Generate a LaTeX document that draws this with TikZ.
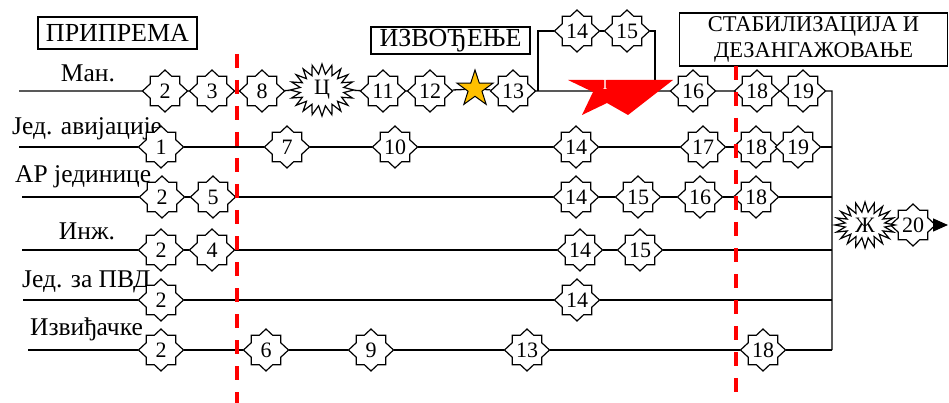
\documentclass[tikz,border=0pt]{standalone}
\usepackage{fontspec}
\setmainfont{Liberation Serif}
\usetikzlibrary{shapes.geometric,shapes.symbols,arrows.meta}
\definecolor{gold}{RGB}{255,192,0}
\pgfdeclarelayer{lines}
\pgfdeclarelayer{shapes}
\pgfsetlayers{lines,shapes,main}
\newcommand{\evshape}[1]{\filldraw[oct, shift={(#1.center)}] (22.5,0) -- (14.8,7.2) -- (14.8,14.8) -- (6.6,14.8) -- (0,21) -- (-6.6,14.8) -- (-14.8,14.8) -- (-14.8,7.2) -- (-22.5,0) -- (-14.8,-7.2) -- (-14.8,-14.8) -- (-6.6,-14.8) -- (0,-21) -- (6.6,-14.8) -- (14.8,-14.8) -- (14.8,-7.2) -- cycle;}
\begin{document}
\begin{tikzpicture}[x=1pt,y=-1pt,
  ev/.style={ellipse, minimum width=45pt, minimum height=42pt, inner sep=0pt, font=\fontsize{22}{22}\selectfont},
  oct/.style={draw=black, fill=white, line width=1.2pt, line join=miter},
  burst/.style={starburst, starburst points=20, starburst point height=10pt, random starburst=0, draw, fill=white, line width=1.2pt, inner sep=0pt, font=\fontsize{22}{22}\selectfont},
  row/.style={line width=1.3pt},
  lbl/.style={font=\fontsize{25.5}{25.5}\selectfont, inner sep=0pt},
  phase/.style={draw, line width=1.2pt, inner sep=0pt, font=\fontsize{26}{26}\selectfont},
  sep/.style={red, line width=3.5pt, dash pattern=on 14pt off 12pt}
]
\useasboundingbox (0,0) rectangle (949,403);

% phase boxes
\node[phase, minimum width=159pt, minimum height=32pt] (p1) at (117.5,33) {ПРИПРЕМА};
\node[phase, minimum width=159pt, minimum height=27pt] (p2) at (450.5,40.5) {ИЗВОЂЕЊЕ};
\node[phase, font=\fontsize{22.5}{26}\selectfont, align=center, minimum width=268pt, minimum height=53pt] (p3) at (813.5,39.5) {СТАБИЛИЗАЦИЈА И\\ДЕЗАНГАЖОВАЊЕ};

% row labels (below the event shapes)
\begin{pgfonlayer}{lines}
\node[lbl, anchor=base] (l1) at (88,82) {Ман.};
\node[lbl, anchor=base west] (l2) at (12,135) {Јед. авијације};
\node[lbl, anchor=base west] (l3) at (15,183) {АР јединице};
\node[lbl, anchor=base] (l4) at (87,240) {Инж.};
\node[lbl, anchor=base west] (l5) at (22,287) {Јед. за ПВД};
\node[lbl, anchor=base west] (l6) at (30,335) {Извиђачке};
\end{pgfonlayer}

% coordinates
\coordinate (mL) at (19,91);
\coordinate (mR) at (832,91);
\coordinate (br) at (538,91);
\coordinate (bt) at (538,31);
\coordinate (bt2) at (655,31);
\coordinate (bb) at (655,80);
\coordinate (aL) at (19,147);
\coordinate (aR) at (832,147);
\coordinate (rL) at (22,197);
\coordinate (rR) at (832,197);
\coordinate (iL) at (22,250);
\coordinate (iR) at (832,250);
\coordinate (pL) at (23,300);
\coordinate (pR) at (832,300);
\coordinate (zL) at (28,350);
\coordinate (zR) at (832,350);
\coordinate (jL) at (832,225);
\coordinate (arE) at (948,225);

% row Man.
\node[ev] (m2) at (165,91) {2};
\node[ev] (m3) at (212,91) {3};
\node[ev] (m8) at (262,91) {8};
\node[burst, minimum width=64pt, minimum height=52pt] (mC) at (322,90) {Ц};
\node[ev] (m11) at (383,91) {11};
\node[ev] (m12) at (430,91) {12};
\node[star, star points=5, star point ratio=2.6, minimum size=38pt, inner sep=0pt, draw, line width=1pt, fill=gold] (mS) at (475,89) {};
\node[ev] (m13) at (513,91) {13};
\node[ev] (b14) at (577,31) {14};
\node[ev] (b15) at (627,31) {15};
\node[ev] (m16) at (693,91) {16};
\node[ev] (m18) at (757,91) {18};
\node[ev] (m19) at (803,91) {19};

% row Jed. avijacije
\node[ev] (a1) at (161,147) {1};
\node[ev] (a7) at (287,147) {7};
\node[ev] (a10) at (395,147) {10};
\node[ev] (a14) at (576,147) {14};
\node[ev] (a17) at (703,147) {17};
\node[ev] (a18) at (756,147) {18};
\node[ev] (a19) at (798,147) {19};

% row AR
\node[ev] (r2) at (162,197) {2};
\node[ev] (r5) at (213,197) {5};
\node[ev] (r14) at (576,197) {14};
\node[ev] (r15) at (638,197) {15};
\node[ev] (r16) at (700,197) {16};
\node[ev] (r18) at (756,197) {18};

% row Inzh
\node[ev] (i2) at (161,250) {2};
\node[ev] (i4) at (212,250) {4};
\node[ev] (i14) at (580,250) {14};
\node[ev] (i15) at (640,250) {15};

% row PVD
\node[ev] (p2n) at (161,300) {2};
\node[ev] (p14) at (577,300) {14};

% row Izv
\node[ev] (z2) at (161,350) {2};
\node[ev] (z6) at (266,350) {6};
\node[ev] (z9) at (371,350) {9};
\node[ev] (z13) at (527,350) {13};
\node[ev] (z18) at (763,350) {18};

% end
\node[burst, minimum width=60pt, minimum height=46pt] (zh) at (865,225) {Ж};
\node[ev] (n20) at (913,225) {20};

% event outlines
\begin{pgfonlayer}{shapes}
\foreach \n in {m2,m3,m8,m11,m12,m13,b14,b15,m16,m18,m19,a1,a7,a10,a14,a17,a18,a19,r2,r5,r14,r15,r16,r18,i2,i4,i14,i15,p2n,p14,z2,z6,z9,z13,z18,n20} {\evshape{\n}}
\end{pgfonlayer}

% connectors
\begin{pgfonlayer}{lines}
\draw[row] (mL) -- (m2) -- (m3) -- (m8) -- (mC) -- (m11) -- (m12) -- (mS) -- (m13) -- (br) -- (m16) -- (m18) -- (m19) -- (mR) -- (zR);
\draw[row] (br) -- (bt) -- (b14) -- (b15) -- (bt2) -- (bb);
\draw[row] (aL) -- (a1) -- (a7) -- (a10) -- (a14) -- (a17) -- (a18) -- (a19) -- (aR);
\draw[row] (rL) -- (r2) -- (r5) -- (r14) -- (r15) -- (r16) -- (r18) -- (rR);
\draw[row] (iL) -- (i2) -- (i4) -- (i14) -- (i15) -- (iR);
\draw[row] (pL) -- (p2n) -- (p14) -- (pR);
\draw[row] (zL) -- (z2) -- (z6) -- (z9) -- (z13) -- (z18) -- (zR);
\draw[row] (jL) -- (zh) -- (n20);
\end{pgfonlayer}
\draw[row, -{Triangle[length=15pt,width=13pt]}] (n20) -- (arE);

% red shape
\fill[red] (568,80) -- (673,80) -- (628,115) -- (607,103) -- (582,115) -- (593,92) -- cycle;
\node[text=white, font=\fontsize{15}{15}\selectfont, inner sep=0pt] (rI) at (605,85) {I};

% separators
\coordinate (s1t) at (237,54);
\coordinate (s1b) at (237,403);
\coordinate (s2t) at (736,66);
\coordinate (s2b) at (736,403);
\draw[sep] (s1t) -- (s1b);
\draw[sep] (s2t) -- (s2b);
\end{tikzpicture}
\end{document}
